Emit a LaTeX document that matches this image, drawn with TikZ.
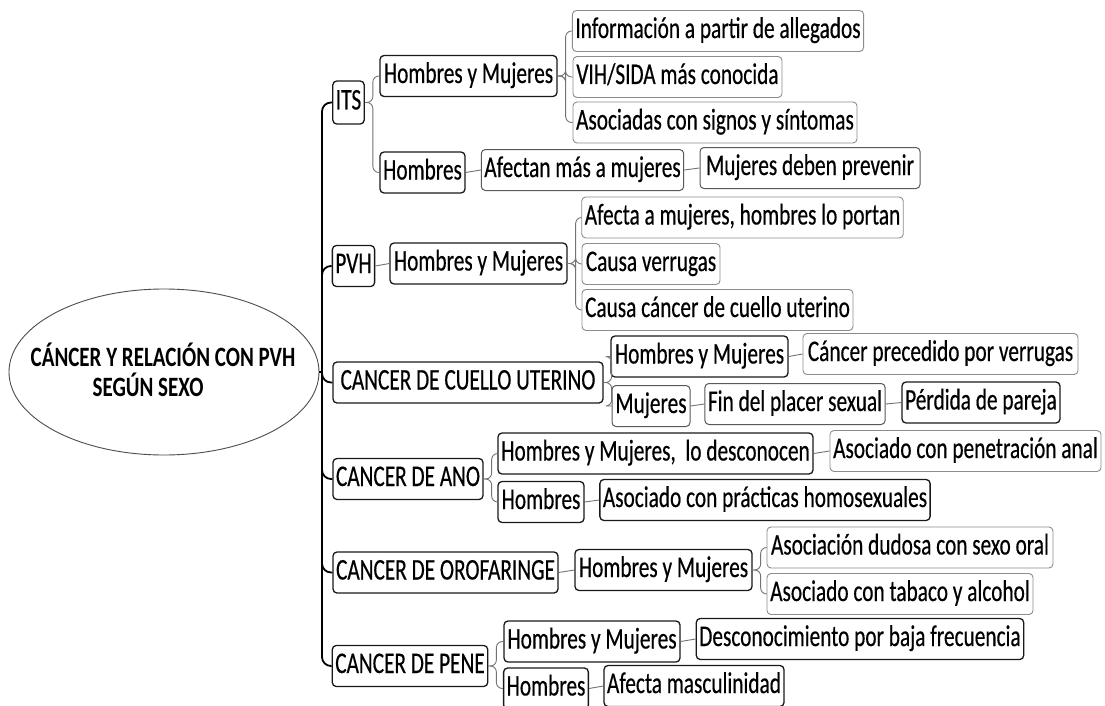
\documentclass[tikz,border=0pt]{standalone}
\usepackage{fontspec}
\setmainfont{Carlito}[FakeStretch=0.71, FakeBold=0.4]
\newfontfamily\titlefont{Carlito}[FakeStretch=0.75]
\usetikzlibrary{shapes.geometric}
\begin{document}
\begin{tikzpicture}[x=1pt,y=-1pt,
 box/.style={draw, rounded corners=4pt, minimum height=41pt, inner xsep=3pt, inner ysep=0pt,
   font=\fontsize{30}{32}\selectfont, text height=21pt, text depth=7pt},
 dk/.style={box, draw=black!90, line width=1.3pt},
 md/.style={box, draw=black!65, line width=1pt},
 lt/.style={box, draw=black!45, line width=0.9pt},
 conn/.style={draw=black!55, line width=0.9pt, rounded corners=6pt},
 trunkline/.style={draw=black, line width=1.8pt, rounded corners=9pt},
]
\useasboundingbox (0,0) rectangle (1105,706);
\fill[white] (0,0) rectangle (1105,706);

% root
\node[ellipse, draw=black!70, line width=0.9pt, minimum width=310pt, minimum height=166pt, inner sep=0pt] (root) at (164,372) {};
\node[align=left, inner sep=0pt, font=\titlefont\bfseries\fontsize{28}{30}\selectfont] (title) at (163,370)
  {CÁNCER Y RELACIÓN CON PVH\\\hspace*{62pt}SEGÚN SEXO};

% level 1
\node[dk, minimum width=31pt, minimum height=43pt] (its) at (348.5,102.5) {ITS};
\node[dk, minimum width=41pt] (pvh) at (353.5,266) {PVH};
\node[dk, minimum width=270pt] (cu) at (468,382.5) {CANCER DE CUELLO UTERINO};
\node[dk, minimum width=150pt] (ano) at (408,479) {CANCER DE ANO};
\node[dk, minimum width=225pt] (oro) at (445.5,572.5) {CANCER DE OROFARINGE};
\node[dk, minimum width=154pt] (pene) at (410,666) {CANCER DE PENE};

% level 2
\node[dk, minimum width=177pt] (itshm) at (468.5,76) {Hombres y Mujeres};
\node[dk, minimum width=85pt] (itsh) at (422.5,172.5) {Hombres};
\node[dk, minimum width=177pt] (pvhhm) at (478.5,263.5) {Hombres y Mujeres};
\node[dk, minimum width=177pt] (cuhm) at (699.5,356.5) {Hombres y Mujeres};
\node[md, minimum width=78pt] (cumuj) at (651,406) {Mujeres};
\node[dk, minimum width=315pt] (anohm) at (655.5,453.5) {Hombres y Mujeres,\ \ lo desconocen};
\node[dk, minimum width=86pt] (anoh) at (541,502) {Hombres};
\node[dk, minimum width=177pt] (orohm) at (663.5,570) {Hombres y Mujeres};
\node[dk, minimum width=176pt] (pehm) at (592,641.5) {Hombres y Mujeres};
\node[dk, minimum width=84pt] (peh) at (546,688.5) {Hombres};

% level 3+
\node[lt, minimum width=290pt] (info) at (718,31) {Información a partir de allegados};
\node[lt, minimum width=209pt] (vih) at (677.5,77) {VIH/SIDA más conocida};
\node[lt, minimum width=284pt] (signos) at (715,122.5) {Asociadas con signos y síntomas};
\node[md, minimum width=201pt] (afectan) at (582.5,170) {Afectan más a mujeres};
\node[md, minimum width=220pt] (prevenir) at (810,168) {Mujeres deben prevenir};
\node[lt, minimum width=321pt] (portan) at (742.5,217.5) {Afecta a mujeres, hombres lo portan};
\node[lt, minimum width=138pt] (verrugas) at (651,264) {Causa verrugas};
\node[lt, minimum width=271pt] (cuellout) at (717.5,310) {Causa cáncer de cuello uterino};
\node[lt, minimum width=275pt] (precedido) at (940.5,354) {Cáncer precedido por verrugas};
\node[md, minimum width=180pt] (placer) at (795,404) {Fin del placer sexual};
\node[dk, minimum width=158pt] (perdida) at (981,402.5) {Pérdida de pareja};
\node[lt, minimum width=271pt] (penet) at (965.5,451) {Asociado con penetración anal};
\node[dk, minimum width=330pt] (practicas) at (765,500) {Asociado con prácticas homosexuales};
\node[lt, minimum width=286pt] (dudosa) at (910,547.5) {Asociación dudosa con sexo oral};
\node[lt, minimum width=266pt] (tabaco) at (900,594) {Asociado con tabaco y alcohol};
\node[dk, minimum width=326pt] (descon) at (860,639) {Desconocimiento por baja frecuencia};
\node[dk, minimum width=178pt] (mascul) at (694,686) {Afecta masculinidad};

% trunk
\coordinate (tr) at (322,372);
\draw[trunkline] (root.east) -- (tr);
\foreach \c in {its,pvh,cu,ano,oro,pene}
  \draw[trunkline] (tr) |- (\c.west);

% braces
\foreach \p/\c in {its/itshm, its/itsh, itshm/info, itshm/vih, itshm/signos,
  pvhhm/portan, pvhhm/verrugas, pvhhm/cuellout, cu/cuhm, cu/cumuj,
  ano/anohm, ano/anoh, orohm/dudosa, orohm/tabaco, pene/pehm, pene/peh}
  \draw[conn] (\p.east) -- ++(8,0) |- (\c.west);

% single links
\foreach \p/\c in {itsh/afectan, afectan/prevenir, pvh/pvhhm, cuhm/precedido,
  cumuj/placer, placer/perdida, anohm/penet, anoh/practicas, oro/orohm,
  pehm/descon, peh/mascul}
  \draw[conn] (\p.east) -- (\c.west);
\end{tikzpicture}
\end{document}
